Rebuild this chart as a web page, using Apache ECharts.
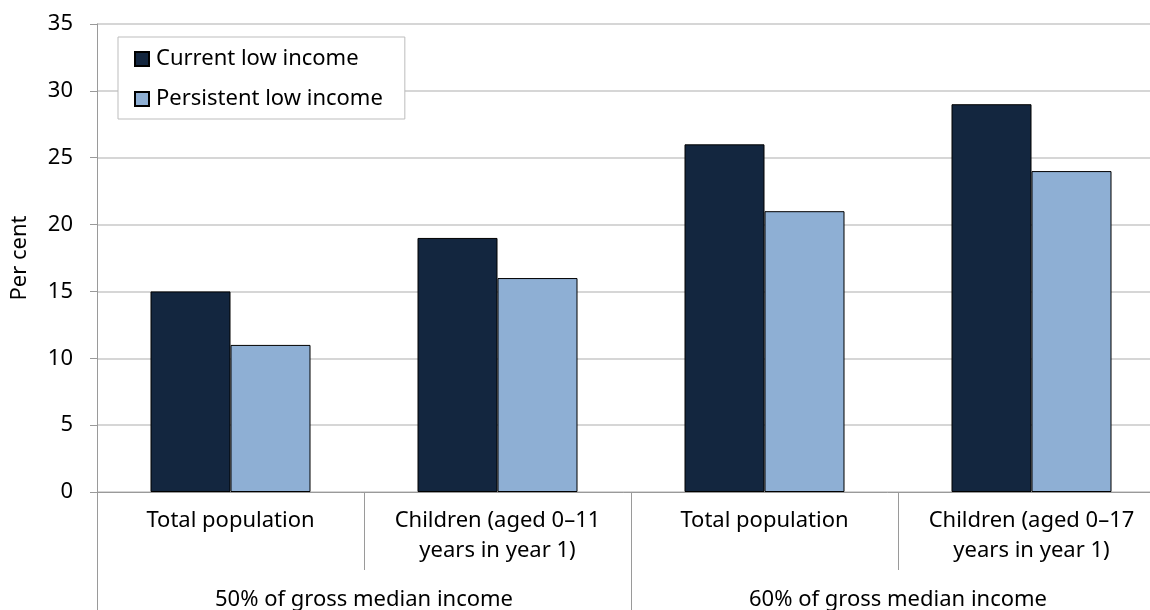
<!DOCTYPE html>
<html>
<head>
<meta charset="utf-8">
<script src="https://cdn.jsdelivr.net/npm/echarts@6/dist/echarts.min.js"></script>
<style>
  html, body { margin: 0; padding: 0; background: #ffffff; }
  #chart { width: 1150px; height: 610px; }
</style>
</head>
<body>
<div id="chart"></div>
<script>
// Low income rates by threshold and population group
const groups = ['Total population', 'Children (aged 0\u201311\nyears in year 1)', 'Total population', 'Children (aged 0\u201317\nyears in year 1)'];
const thresholds = ['50% of gross median income', '60% of gross median income'];
const currentLowIncome = [15, 19, 26, 29];
const persistentLowIncome = [11, 16, 21, 24];
const seriesNames = ['Current low income', 'Persistent low income'];
const yTicks = { min: 0, max: 35, interval: 5 };

const FONT = '"Noto Sans", "Open Sans", sans-serif';
const FS = 22;
const AXIS_GREY = '#9a9a9a';

const chart = echarts.init(document.getElementById('chart'), null, { renderer: 'canvas' });

chart.setOption({
  animation: false,
  backgroundColor: '#ffffff',
  textStyle: { fontFamily: FONT, color: '#000000' },
  grid: { left: 97, top: 24, width: 1068, height: 468, containLabel: false, outerBoundsMode: 'none' },
  legend: {
    orient: 'vertical',
    left: 118,
    top: 37,
    padding: [11, 22, 9, 16],
    itemGap: 18,
    itemWidth: 14,
    itemHeight: 14,
    borderColor: '#bdbdbd',
    borderWidth: 1,
    backgroundColor: '#ffffff',
    icon: 'rect',
    textStyle: { fontFamily: FONT, fontSize: FS, color: '#000000', padding: [0, 0, 0, 2] },
    data: seriesNames
  },
  xAxis: [
    {
      type: 'category',
      data: groups,
      position: 'bottom',
      axisLine: { show: true, lineStyle: { color: AXIS_GREY, width: 1 } },
      axisTick: { show: true, alignWithLabel: false, length: 78, lineStyle: { color: AXIS_GREY } },
      axisLabel: {
        interval: 0,
        margin: 14,
        fontFamily: FONT,
        fontSize: FS,
        lineHeight: 30,
        color: '#000000'
      },
      splitLine: { show: false }
    },
    {
      type: 'category',
      data: thresholds,
      position: 'bottom',
      axisLine: { show: false },
      axisTick: { show: true, alignWithLabel: false, length: 120, lineStyle: { color: AXIS_GREY } },
      axisLabel: {
        interval: 0,
        margin: 97,
        fontFamily: FONT,
        fontSize: FS,
        color: '#000000'
      },
      splitLine: { show: false }
    }
  ],
  yAxis: {
    type: 'value',
    min: yTicks.min,
    max: yTicks.max,
    interval: yTicks.interval,
    name: 'Per cent',
    nameLocation: 'middle',
    nameGap: 66,
    nameRotate: 90,
    nameTextStyle: { fontFamily: FONT, fontSize: FS, color: '#000000' },
    axisLine: { show: true, lineStyle: { color: AXIS_GREY, width: 1 } },
    axisTick: { show: true, length: 7, lineStyle: { color: AXIS_GREY } },
    axisLabel: { margin: 24, fontFamily: FONT, fontSize: FS, color: '#000000' },
    splitLine: { show: true, lineStyle: { color: '#c8c8c8', width: 1.5 } }
  },
  series: [
    {
      name: seriesNames[0],
      type: 'bar',
      xAxisIndex: 0,
      data: currentLowIncome,
      barWidth: 80,
      barGap: '0%',
      itemStyle: { color: '#13263f', borderColor: '#000000', borderWidth: 1 }
    },
    {
      name: seriesNames[1],
      type: 'bar',
      xAxisIndex: 0,
      data: persistentLowIncome,
      barWidth: 80,
      barGap: '0%',
      itemStyle: { color: '#8eafd4', borderColor: '#000000', borderWidth: 1 }
    }
  ]
});
</script>
</body>
</html>
